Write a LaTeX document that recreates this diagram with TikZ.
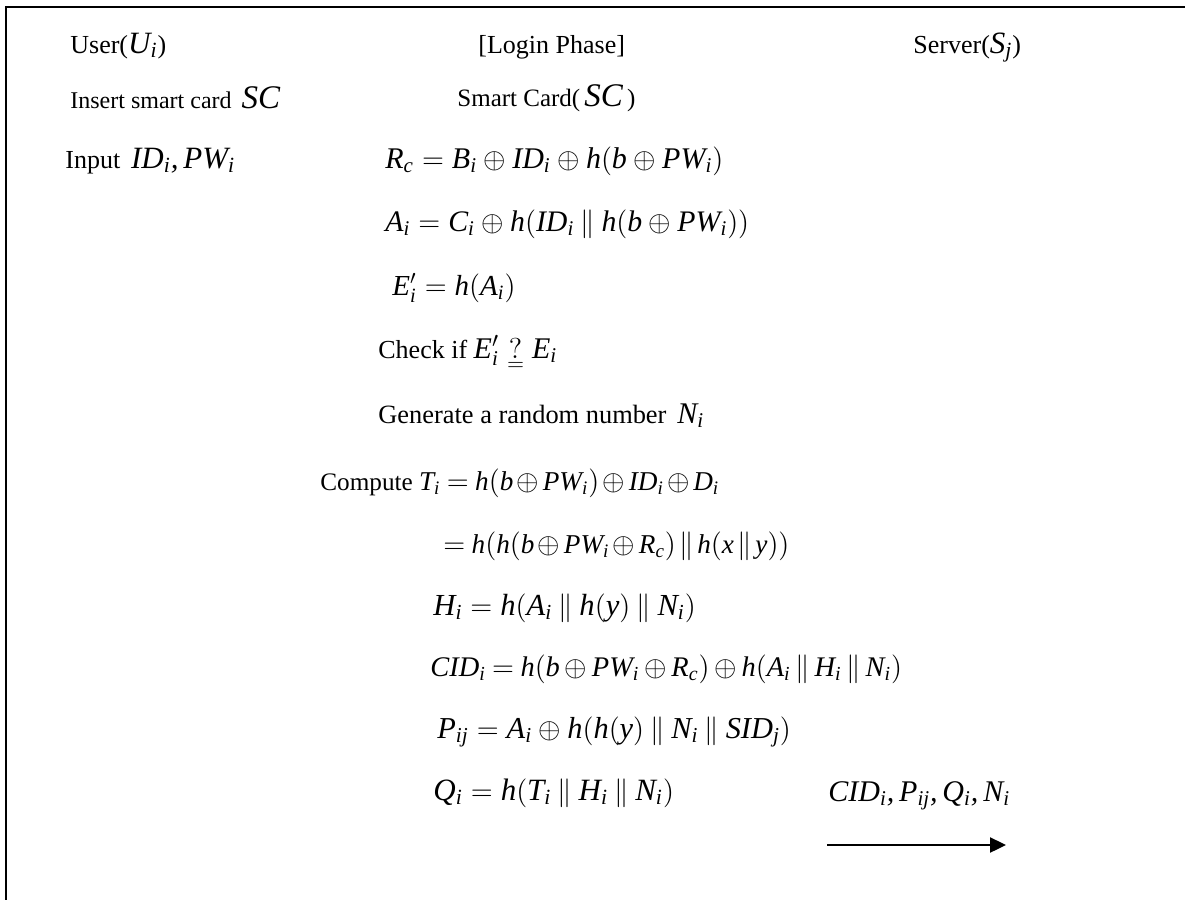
\documentclass[tikz,border=0pt]{standalone}
\usepackage{fontspec}
\setmainfont{Liberation Serif}
% italic math letters taken from the serif text face
\DeclareSymbolFont{letters}{TU}{\rmdefault}{m}{it}
\SetSymbolFont{letters}{bold}{TU}{\rmdefault}{b}{it}
\AtBeginDocument{\mathcode`\,="612C}
\usetikzlibrary{arrows.meta}
\newcommand{\cat}{\mathbin{\|}}
\newcommand{\mth}[2][15]{{\fontsize{#1}{18}\selectfont$#2$}}
\tikzset{
  txt/.style={anchor=base west, inner sep=0pt, font=\fontsize{#1}{16}\selectfont},
  txt/.default=13,
  eqn/.style={anchor=base west, inner sep=0pt, font=\fontsize{#1}{18}\selectfont},
  eqn/.default=14.9,
  tight/.style={execute at begin node={\medmuskip=#1\thickmuskip=4mu}},
  tight/.default=2.2mu,
  frame/.style={line width=1pt},
  msg/.style={line width=1.2pt, -{Triangle[length=8pt,width=7.5pt]}}
}
\begin{document}
\begin{tikzpicture}[x=0.5pt,y=-0.5pt]
\useasboundingbox (0,0) rectangle (1185,900);
% open frame: top edge and left edge
\draw[frame] (1185,7) -- (6,7) -- (6,900);

% headings
\node[txt] (user) at (70,53) {User(\mth[15.5]{U_i})};
\node[txt] (phase) at (478,53) {[Login Phase]};
\node[txt] (server) at (913,53) {Server(\mth[15.5]{S_j})};

% user side
\node[txt=12] (insert) at (70,108) {Insert smart card \,\mth[16.5]{SC}};
\node[txt] (input) at (65,168) {Input \,\mth[15.5]{ID_i, PW_i}};

% smart card computations
\node[txt=12.5] (card) at (457,106) {Smart Card(\,\mth[16.5]{SC}\,)};
\node[eqn=15] (rc) at (385,168) {$R_c = B_i \oplus ID_i \oplus h(b \oplus PW_i)$};
\node[eqn] (ai) at (385,231) {$A_i = C_i \oplus h(ID_i \cat h(b \oplus PW_i))$};
\node[eqn=14.5] (ei) at (392,295) {$E^{\prime}_i = h(A_i)$};
\node[txt] (check) at (378,358) {Check if \mth[15]{E^{\prime}_i \mathrel{\mathop{?}\limits_{=}} E_i}};
\node[txt=13.2] (gen) at (378,423) {Generate a random number \,\mth[15]{N_i}};
\node[txt=12.6,tight] (ti) at (320,490) {Compute \mth[13.6]{T_i = h(b \oplus PW_i) \oplus ID_i \oplus D_i}};
\node[eqn=13.6,tight] (ti2) at (443,553) {$= h(h(b \oplus PW_i \oplus R_c) \cat h(x \cat y))$};
\node[eqn=15.3] (hi) at (433,615) {$H_i = h(A_i \cat h(y) \cat N_i)$};
\node[eqn=14.2,tight=3mu] (cid) at (430,676) {$CID_i = h(b \oplus PW_i \oplus R_c) \oplus h(A_i \cat H_i \cat N_i)$};
\node[eqn=15.2] (pij) at (437,738) {$P_{ij} = A_i \oplus h(h(y) \cat N_i \cat SID_j)$};
\node[eqn=15.5] (qi) at (433,800) {$Q_i = h(T_i \cat H_i \cat N_i)$};

% message to the server
\node[eqn=15] (m1) at (828,801) {$CID_i, P_{ij}, Q_i, N_i$};
\coordinate (a0) at (827,845);
\coordinate (a1) at (1006,845);
\draw[msg] (a0) -- (a1);
\end{tikzpicture}
\end{document}
